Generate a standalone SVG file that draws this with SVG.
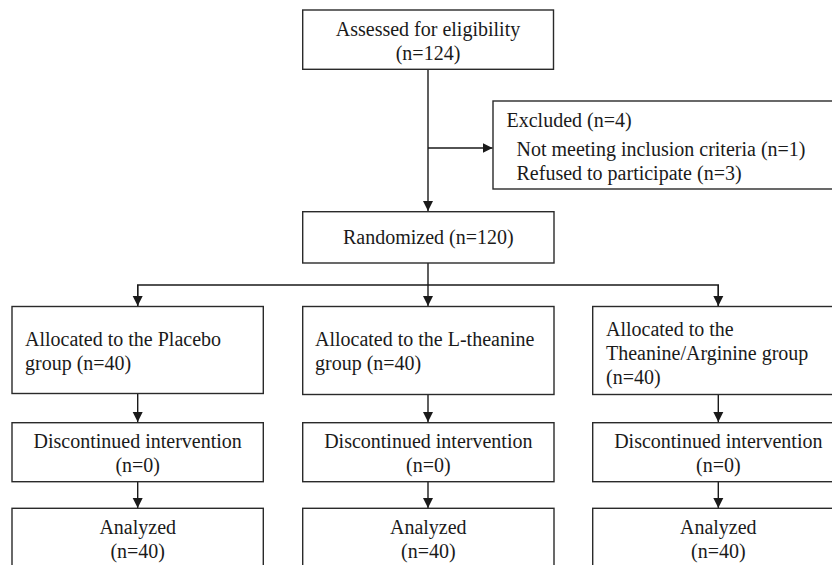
<svg xmlns="http://www.w3.org/2000/svg" width="832" height="565" viewBox="0 0 832 565">
<defs>
<marker id="ah" markerWidth="10" markerHeight="12" refX="10" refY="5" orient="auto" markerUnits="userSpaceOnUse" viewBox="0 0 10 10">
<path d="M0,0 L10,5 L0,10 Z" fill="#1a1a1a"/>
</marker>
<style>
.box{fill:#fff;stroke:#2a2a2a;stroke-width:1.4}
.t{font-family:"Liberation Serif","Times New Roman",serif;font-size:20px;fill:#1a1a1a}
.c{text-anchor:middle}
.ln{fill:none;stroke:#1a1a1a;stroke-width:1.4}
</style>
</defs>
<rect width="832" height="565" fill="#fff"/>
<g id="connectors">
<path class="ln" d="M428,69.3 V211" marker-end="url(#ah)"/>
<path class="ln" d="M428,148 H492.5" marker-end="url(#ah)"/>
<path class="ln" d="M428,263 V306" marker-end="url(#ah)"/>
<path class="ln" d="M137.7,306 V285 H718.3 V306" />
<path class="ln" d="M137.7,285 V306" marker-end="url(#ah)"/>
<path class="ln" d="M718.3,285 V306" marker-end="url(#ah)"/>
<path class="ln" d="M137.7,393.5 V422" marker-end="url(#ah)"/>
<path class="ln" d="M428,394.5 V422" marker-end="url(#ah)"/>
<path class="ln" d="M718.3,394.5 V422" marker-end="url(#ah)"/>
<path class="ln" d="M137.7,481.7 V508" marker-end="url(#ah)"/>
<path class="ln" d="M428,481.7 V508" marker-end="url(#ah)"/>
<path class="ln" d="M718.3,481.7 V508" marker-end="url(#ah)"/>
</g>
<g id="assessed">
<rect class="box" x="302.7" y="10" width="250.8" height="59.3"/>
<text class="t c" x="428" y="36">Assessed for eligibility</text>
<text class="t c" x="428" y="60">(n=124)</text>
</g>
<g id="excluded">
<rect class="box" x="493" y="101" width="352" height="88"/>
<text class="t" x="506.5" y="126.5">Excluded (n=4)</text>
<text class="t" x="516.5" y="156">Not meeting inclusion criteria (n=1)</text>
<text class="t" x="516.5" y="180">Refused to participate (n=3)</text>
</g>
<g id="randomized">
<rect class="box" x="302.7" y="211.7" width="251.3" height="51.3"/>
<text class="t c" x="428.3" y="244">Randomized (n=120)</text>
</g>
<g id="alloc-placebo">
<rect class="box" x="12" y="306.5" width="251.3" height="87"/>
<text class="t" x="25" y="345.5">Allocated to the Placebo</text>
<text class="t" x="25" y="370">group (n=40)</text>
</g>
<g id="alloc-theanine">
<rect class="box" x="302.7" y="306.5" width="251.3" height="88"/>
<text class="t" x="315" y="345.5">Allocated to the L-theanine</text>
<text class="t" x="315" y="370">group (n=40)</text>
</g>
<g id="alloc-arginine">
<rect class="box" x="592.7" y="306.5" width="251.3" height="88"/>
<text class="t" x="606" y="335.5">Allocated to the</text>
<text class="t" x="606" y="360">Theanine/Arginine group</text>
<text class="t" x="606" y="384">(n=40)</text>
</g>
<g id="disc-placebo">
<rect class="box" x="12" y="422.7" width="251.3" height="59"/>
<text class="t c" x="137.7" y="448">Discontinued intervention</text>
<text class="t c" x="137.7" y="472">(n=0)</text>
</g>
<g id="disc-theanine">
<rect class="box" x="302.7" y="422.7" width="251.3" height="59"/>
<text class="t c" x="428.3" y="448">Discontinued intervention</text>
<text class="t c" x="428.3" y="472">(n=0)</text>
</g>
<g id="disc-arginine">
<rect class="box" x="592.7" y="422.7" width="251.3" height="59"/>
<text class="t c" x="718.3" y="448">Discontinued intervention</text>
<text class="t c" x="718.3" y="472">(n=0)</text>
</g>
<g id="analyzed-placebo">
<rect class="box" x="12" y="508.3" width="251.3" height="70"/>
<text class="t c" x="137.7" y="534">Analyzed</text>
<text class="t c" x="137.7" y="558">(n=40)</text>
</g>
<g id="analyzed-theanine">
<rect class="box" x="302.7" y="508.3" width="251.3" height="70"/>
<text class="t c" x="428.3" y="534">Analyzed</text>
<text class="t c" x="428.3" y="558">(n=40)</text>
</g>
<g id="analyzed-arginine">
<rect class="box" x="592.7" y="508.3" width="251.3" height="70"/>
<text class="t c" x="718.3" y="534">Analyzed</text>
<text class="t c" x="718.3" y="558">(n=40)</text>
</g>
</svg>
